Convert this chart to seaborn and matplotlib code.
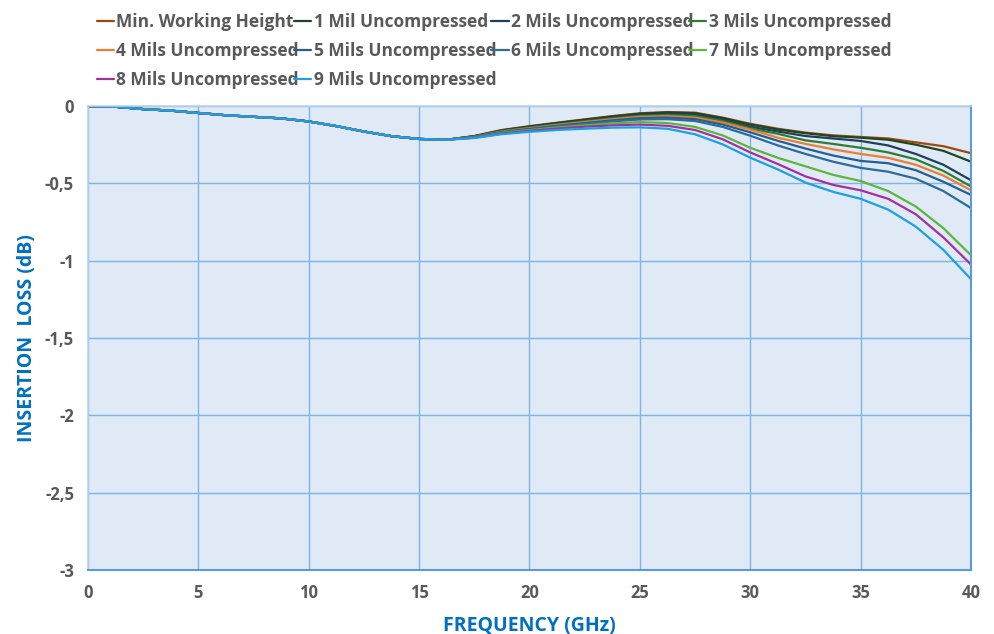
import numpy as np
import pandas as pd
import seaborn as sns
import matplotlib.pyplot as plt

# 周波数 (GHz)
freq = [0, 1.25, 2.5, 3.75, 5, 6.25, 7.5, 8.75, 10, 11.25, 12.5, 13.75, 15, 16.25,
        17.5, 18.75, 20, 21.25, 22.5, 23.75, 25, 26.25, 27.5, 28.75, 30, 31.25,
        32.5, 33.75, 35, 36.25, 37.5, 38.75, 40]

# 共通部分 (0〜16.25 GHz)
common = [0, -0.005, -0.02, -0.03, -0.045, -0.06, -0.07, -0.08, -0.1, -0.13,
          -0.165, -0.195, -0.213, -0.218]

min_working = common + [-0.194, -0.155, -0.13, -0.108, -0.086, -0.065, -0.047, -0.039, -0.043, -0.075,
                        -0.115, -0.147, -0.172, -0.19, -0.2, -0.21, -0.235, -0.26, -0.305]
mil_1 = common + [-0.195, -0.157, -0.133, -0.11, -0.089, -0.068, -0.05, -0.042, -0.047, -0.078,
                  -0.12, -0.152, -0.176, -0.195, -0.205, -0.218, -0.25, -0.29, -0.36]
mils_2 = common + [-0.197, -0.16, -0.137, -0.115, -0.094, -0.074, -0.056, -0.05, -0.055, -0.088,
                   -0.134, -0.165, -0.194, -0.21, -0.226, -0.255, -0.31, -0.38, -0.48]
mils_3 = common + [-0.198, -0.162, -0.14, -0.119, -0.099, -0.08, -0.064, -0.058, -0.065, -0.097,
                   -0.145, -0.18, -0.222, -0.245, -0.27, -0.30, -0.345, -0.42, -0.52]
mils_4 = common + [-0.2, -0.165, -0.144, -0.123, -0.104, -0.086, -0.07, -0.066, -0.075, -0.107,
                   -0.152, -0.205, -0.245, -0.28, -0.31, -0.335, -0.38, -0.45, -0.545]
mils_5 = common + [-0.201, -0.168, -0.148, -0.128, -0.11, -0.093, -0.078, -0.075, -0.085, -0.12,
                   -0.17, -0.225, -0.275, -0.32, -0.355, -0.37, -0.415, -0.49, -0.575]
mils_6 = common + [-0.202, -0.17, -0.151, -0.132, -0.116, -0.1, -0.087, -0.085, -0.097, -0.135,
                   -0.192, -0.255, -0.31, -0.36, -0.40, -0.425, -0.47, -0.55, -0.66]
mils_7 = common + [-0.204, -0.174, -0.156, -0.139, -0.125, -0.112, -0.104, -0.11, -0.135, -0.19,
                   -0.27, -0.335, -0.39, -0.445, -0.485, -0.55, -0.65, -0.79, -0.965]
mils_8 = common + [-0.205, -0.178, -0.161, -0.146, -0.134, -0.125, -0.12, -0.128, -0.155, -0.215,
                   -0.30, -0.375, -0.455, -0.51, -0.545, -0.60, -0.70, -0.85, -1.025]
mils_9 = common + [-0.207, -0.182, -0.167, -0.155, -0.147, -0.14, -0.138, -0.147, -0.183, -0.248,
                   -0.334, -0.41, -0.495, -0.555, -0.60, -0.67, -0.78, -0.93, -1.12]

series_names = ["Min. Working Height", "1 Mil Uncompressed", "2 Mils Uncompressed",
                "3 Mils Uncompressed", "4 Mils Uncompressed", "5 Mils Uncompressed",
                "6 Mils Uncompressed", "7 Mils Uncompressed", "8 Mils Uncompressed",
                "9 Mils Uncompressed"]
series_values = [min_working, mil_1, mils_2, mils_3, mils_4, mils_5, mils_6, mils_7, mils_8, mils_9]
colors = ["#9E480E", "#1E4620", "#1F3F5B", "#2E7D32", "#ED7D31",
          "#255E91", "#2B6C9A", "#5DB53C", "#A3309F", "#1BA1E2"]

xticks = [0, 5, 10, 15, 20, 25, 30, 35, 40]
yticks = [0, -0.5, -1, -1.5, -2, -2.5, -3]
ytick_labels = ["0", "-0,5", "-1", "-1,5", "-2", "-2,5", "-3"]

# ロング形式に変換
rows = []
for name, vals in zip(series_names, series_values):
    for f, v in zip(freq, vals):
        rows.append({"Frequency": f, "Loss": v, "Series": name})
df = pd.DataFrame(rows)

sns.set_style("white")
plt.rcParams['font.family'] = ['Open Sans', 'DejaVu Sans']

fig = plt.figure(figsize=(9.95, 6.34), dpi=100)
ax = fig.add_axes([0.0884, 0.1009, 0.8875, 0.7319])
ax.set_facecolor("#DFEAF6")

sns.lineplot(data=df, x="Frequency", y="Loss", hue="Series", hue_order=series_names,
             palette=colors, linewidth=1.6, ax=ax)

ax.set_xlim(0, 40)
ax.set_ylim(-3, 0)
ax.set_xticks(xticks)
ax.set_yticks(yticks)
ax.set_yticklabels(ytick_labels)
ax.grid(True, color="#7FB5E3", linewidth=1.0)
ax.set_axisbelow(True)
for side in ["top", "left"]:
    ax.spines[side].set_color("#B8D3EC")
    ax.spines[side].set_linewidth(1.2)
ax.spines["bottom"].set_color("#5B9BD5")
ax.spines["bottom"].set_linewidth(1.5)
ax.spines["right"].set_color("#5B9BD5")
ax.spines["right"].set_linewidth(1.5)

ax.tick_params(length=0, labelsize=12, labelcolor="#595959", pad=10)
for lbl in ax.get_xticklabels() + ax.get_yticklabels():
    lbl.set_fontweight("bold")

ax.set_xlabel("FREQUENCY (GHz)", fontsize=14, fontweight="bold", color="#0070C0", labelpad=10)
ax.set_ylabel("INSERTION  LOSS (dB)", fontsize=14, fontweight="bold", color="#0070C0", labelpad=6)

# 凡例を行優先で並べる
handles, labels = ax.get_legend_handles_labels()
order = [0, 4, 8, 1, 5, 9, 2, 6, 3, 7]
ax.legend([handles[i] for i in order], [labels[i] for i in order], ncol=4,
          loc="upper left", bbox_to_anchor=(-0.008, 1.235), frameon=False,
          handlelength=1.0, handletextpad=0.15, columnspacing=-0.3, labelspacing=0.65,
          prop={"weight": "bold", "size": 12.5})
for t in ax.get_legend().get_texts():
    t.set_color("#595959")

plt.savefig("out.png", dpi=100)
plt.close()
